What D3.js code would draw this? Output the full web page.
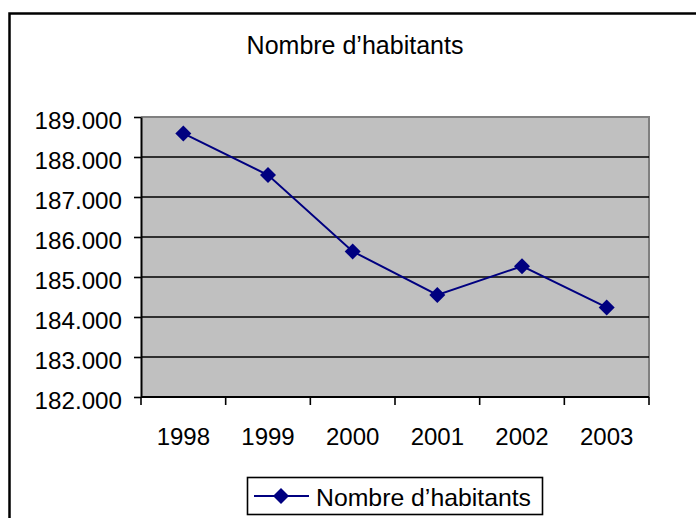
<!DOCTYPE html>
<html>
<head>
<meta charset="utf-8">
<script src="https://cdn.jsdelivr.net/npm/d3@7"></script>
<style>
  body { margin: 0; background: #fff; }
  svg text { font-family: "Liberation Sans", Arial, sans-serif; fill: #000; }
</style>
</head>
<body>
<div id="chart"></div>
<script>
// data
const years = ["1998", "1999", "2000", "2001", "2002", "2003"];
const habitants = [188590, 187550, 185640, 184550, 185270, 184240];
const yTicks = [182000, 183000, 184000, 185000, 186000, 187000, 188000, 189000];
const chartTitle = "Nombre d\u2019habitants";
const seriesName = "Nombre d\u2019habitants";

const width = 696, height = 518;
// plot area in pixels
const plot = {left: 141, right: 649, top: 117, bottom: 397};

const svg = d3.select("#chart")
  .append("svg")
    .attr("width", width)
    .attr("height", height);

// outer chart frame (runs past the right and bottom edge)
svg.append("rect")
    .attr("x", 9.5).attr("y", 13.5)
    .attr("width", 720).attr("height", 540)
    .attr("fill", "#fff")
    .attr("stroke", "#000")
    .attr("stroke-width", 2.5);

// title
svg.append("text")
    .attr("x", 355).attr("y", 54)
    .attr("text-anchor", "middle")
    .style("font-size", "25px")
    .text(chartTitle);

// scales
const x = d3.scaleBand()
    .domain(years)
    .range([plot.left, plot.right]);

const y = d3.scaleLinear()
    .domain([182000, 189000])
    .range([plot.bottom, plot.top]);

// gray plot background
svg.append("rect")
    .attr("x", plot.left).attr("y", plot.top)
    .attr("width", plot.right - plot.left)
    .attr("height", plot.bottom - plot.top)
    .attr("fill", "#c0c0c0");

// top and right border of the plot area
svg.append("path")
    .attr("d", `M${plot.left},${plot.top}H${plot.right}V${plot.bottom}`)
    .attr("fill", "none")
    .attr("stroke", "#808080")
    .attr("stroke-width", 2);

// gridlines
svg.append("g")
  .selectAll("line")
  .data(yTicks.filter(d => d !== 182000 && d !== 189000))
  .join("line")
    .attr("x1", plot.left).attr("x2", plot.right)
    .attr("y1", d => y(d)).attr("y2", d => y(d))
    .attr("stroke", "#000")
    .attr("stroke-width", 1.6);

// y axis, "189.000" style labels
const fr = d3.formatLocale({decimal: ",", thousands: ".", grouping: [3], currency: ["", " €"]});
const yAxis = svg.append("g")
    .attr("transform", `translate(${plot.left},0)`)
    .call(d3.axisLeft(y)
      .tickValues(yTicks)
      .tickFormat(fr.format(",d"))
      .tickSizeInner(7)
      .tickSizeOuter(0)
      .tickPadding(12));
yAxis.select(".domain").attr("stroke", "#000").attr("stroke-width", 2);
yAxis.selectAll(".tick line").attr("stroke", "#000").attr("stroke-width", 1.6);
yAxis.selectAll(".tick text")
    .attr("dy", "0.46em")
    .style("font-size", "24.2px")
    .style("font-family", "'Liberation Sans', Arial, sans-serif");

// x axis: labels centred in bands, ticks on band boundaries
const xAxis = svg.append("g")
    .attr("transform", `translate(0,${plot.bottom})`)
    .call(d3.axisBottom(x)
      .tickSize(0)
      .tickPadding(31));
xAxis.select(".domain").remove();
xAxis.selectAll(".tick text")
    .style("font-size", "24px")
    .style("font-family", "'Liberation Sans', Arial, sans-serif");

svg.append("line")
    .attr("x1", plot.left).attr("x2", plot.right)
    .attr("y1", plot.bottom).attr("y2", plot.bottom)
    .attr("stroke", "#000").attr("stroke-width", 2);

svg.append("g")
  .selectAll("line")
  .data(years.map(d => x(d)).concat([plot.right]))
  .join("line")
    .attr("x1", d => d).attr("x2", d => d)
    .attr("y1", plot.bottom).attr("y2", plot.bottom + 8)
    .attr("stroke", "#000")
    .attr("stroke-width", 1.6);

// series line
const cx = (d, i) => x(years[i]) + x.bandwidth() / 2;
const line = d3.line()
    .x(cx)
    .y(d => y(d));

svg.append("path")
    .datum(habitants)
    .attr("d", line)
    .attr("fill", "none")
    .attr("stroke", "#000080")
    .attr("stroke-width", 2);

const diamond = r => `M0,${-r}L${r},0L0,${r}L${-r},0Z`;

svg.append("g")
  .selectAll("path")
  .data(habitants)
  .join("path")
    .attr("transform", (d, i) => `translate(${cx(d, i)},${y(d)})`)
    .attr("d", diamond(8))
    .attr("fill", "#000080");

// legend
const legend = svg.append("g");
legend.append("rect")
    .attr("x", 247.5).attr("y", 477.5)
    .attr("width", 295).attr("height", 37)
    .attr("fill", "#fff")
    .attr("stroke", "#000")
    .attr("stroke-width", 1.6);
legend.append("line")
    .attr("x1", 254).attr("x2", 309)
    .attr("y1", 496).attr("y2", 496)
    .attr("stroke", "#000080")
    .attr("stroke-width", 2);
legend.append("path")
    .attr("transform", "translate(281,496)")
    .attr("d", diamond(8))
    .attr("fill", "#000080");
legend.append("text")
    .attr("x", 316).attr("y", 506)
    .style("font-size", "24.8px")
    .text(seriesName);
</script>
</body>
</html>
